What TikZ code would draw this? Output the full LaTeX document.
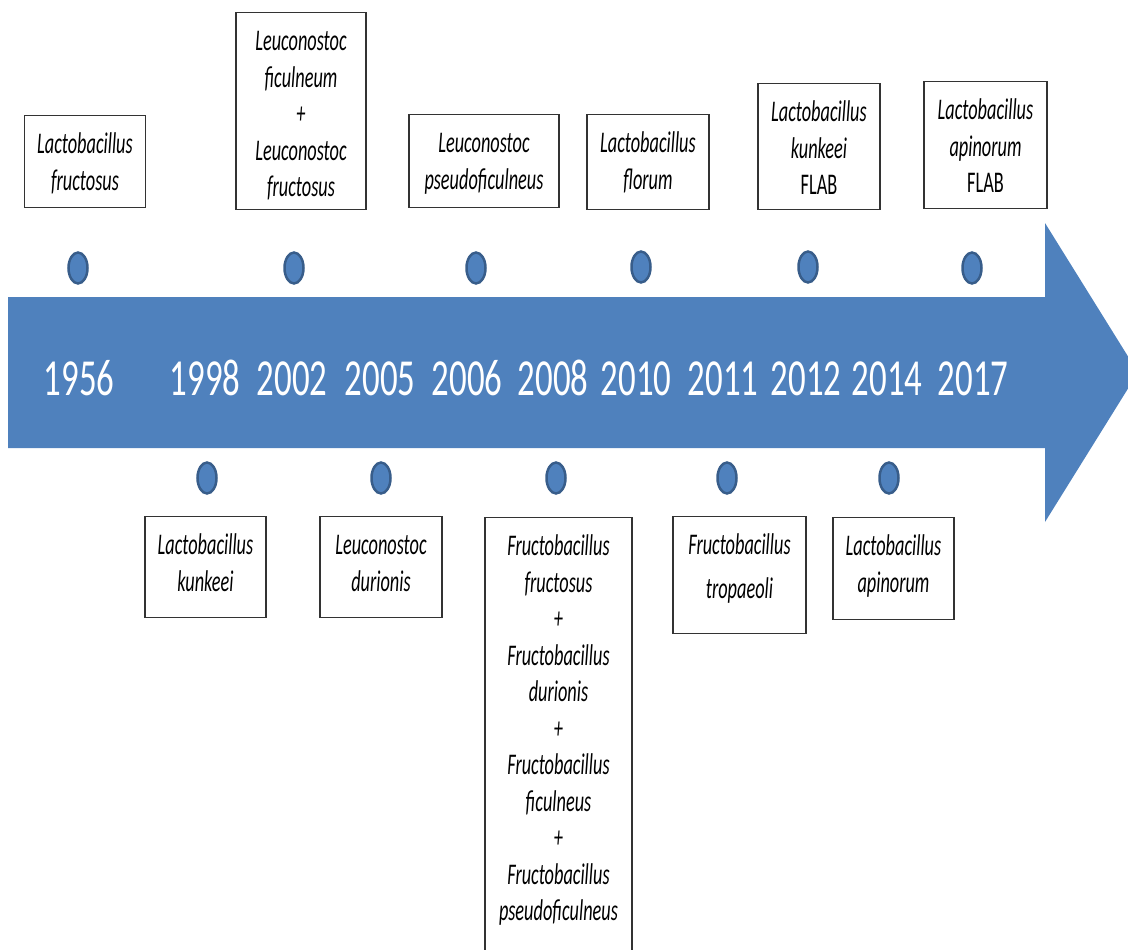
\documentclass[tikz,border=0pt]{standalone}
\usepackage{fontspec}
\usetikzlibrary{shapes.geometric}
\newfontfamily\cellfont[FakeStretch=0.61]{Carlito}
\newfontfamily\yearfont[FakeStretch=0.67]{Carlito}
\definecolor{timeblue}{HTML}{4F81BD}
\definecolor{dotedge}{HTML}{385D8A}
\begin{document}
\begin{tikzpicture}[
	x=1pt, y=-1pt,
	cell/.style 2 args={% #1 top to last baseline, #2 last baseline to bottom
		rectangle,
		draw=black!80,
		line width=1.2pt,
		fill=white,
		anchor=north,
		align=center,
		inner xsep=0pt,
		inner ysep=0pt,
		text height=#1,
		text depth=#2,
		font=\cellfont\fontsize{30}{36.5}\selectfont\itshape
	},
	dot/.style={
		ellipse,
		fill=timeblue,
		draw=dotedge,
		line width=2.5pt,
		inner sep=0pt,
		minimum width=19pt,
		minimum height=31pt
	},
	year/.style={% white years on the arrow
		anchor=base,
		text=white,
		inner sep=0pt,
		font=\yearfont\fontsize{52}{60}\selectfont
	},
]
	\useasboundingbox (0,0) rectangle (1128,950);

	% timeline arrow
	\fill [timeblue] (8,297) -- (1045,297) -- (1045,223) -- (1138,372.5)
		-- (1045,522) -- (1045,448) -- (8,448) -- cycle;

	\node [year] (y1956) at (79,395) {1956};
	\node [year] (y1998) at (205,395) {1998};
	\node [year] (y2002) at (292,395) {2002};
	\node [year] (y2005) at (380,395) {2005};
	\node [year] (y2006) at (467,395) {2006};
	\node [year] (y2008) at (553,395) {2008};
	\node [year] (y2010) at (636,395) {2010};
	\node [year] (y2011) at (723,395) {2011};
	\node [year] (y2012) at (806,395) {2012};
	\node [year] (y2014) at (887,395) {2014};
	\node [year] (y2017) at (973,395) {2017};

	\node [dot] (d1956) at (78,268) {};
	\node [dot] (d2002) at (294,268) {};
	\node [dot] (d2006) at (476,268) {};
	\node [dot] (d2010) at (641,267) {};
	\node [dot] (d2012) at (808,267) {};
	\node [dot] (d2017) at (972,268) {};

	\node [dot] (d1998) at (207,478) {};
	\node [dot] (d2005) at (381,478) {};
	\node [dot] (d2008) at (556,478) {};
	\node [dot] (d2011) at (727,478) {};
	\node [dot] (d2014) at (889,478) {};

	% boxes above the arrow
	\node [cell={74.5pt}{17.5pt}, minimum width=121pt] (c1956) at (85,115)
		{Lactobacillus\\fructosus};
	\node [cell={184pt}{13pt}, minimum width=130pt] (c2002) at (301,12)
		{Leuconostoc\\ficulneum\\+\\Leuconostoc\\fructosus};
	\node [cell={74.5pt}{18.5pt}, minimum width=150pt] (c2006) at (484,114)
		{Leuconostoc\\pseudoficulneus};
	\node [cell={74.5pt}{20.5pt}, minimum width=122pt] (c2010) at (648,114)
		{Lactobacillus\\florum};
	\node [cell={111pt}{15pt}, minimum width=122pt] (c2012) at (819,83)
		{Lactobacillus\\kunkeei\\\upshape FLAB};
	\node [cell={111pt}{16pt}, minimum width=123pt] (c2017) at (985.5,81)
		{Lactobacillus\\apinorum\\\upshape FLAB};

	% boxes below the arrow
	\node [cell={74.5pt}{26.5pt}, minimum width=121pt] (c1998) at (205.5,516)
		{Lactobacillus\\kunkeei};
	\node [cell={74.5pt}{26.5pt}, minimum width=122pt] (c2005) at (381,516)
		{Leuconostoc\\durionis};
	\node [cell={403pt}{50pt}, minimum width=147pt] (c2008) at (558.5,517)
		{Fructobacillus\\fructosus\\+\\Fructobacillus\\durionis\\+\\Fructobacillus\\ficulneus\\+\\Fructobacillus\\pseudoficulneus};
	\node [cell={82pt}{35pt}, minimum width=133pt] (c2011) at (739.5,516)
		{Fructobacillus\\[7.5pt]tropaeoli};
	\node [cell={74.5pt}{27.5pt}, minimum width=121pt] (c2014) at (893.5,517)
		{Lactobacillus\\apinorum};
\end{tikzpicture}
\end{document}
